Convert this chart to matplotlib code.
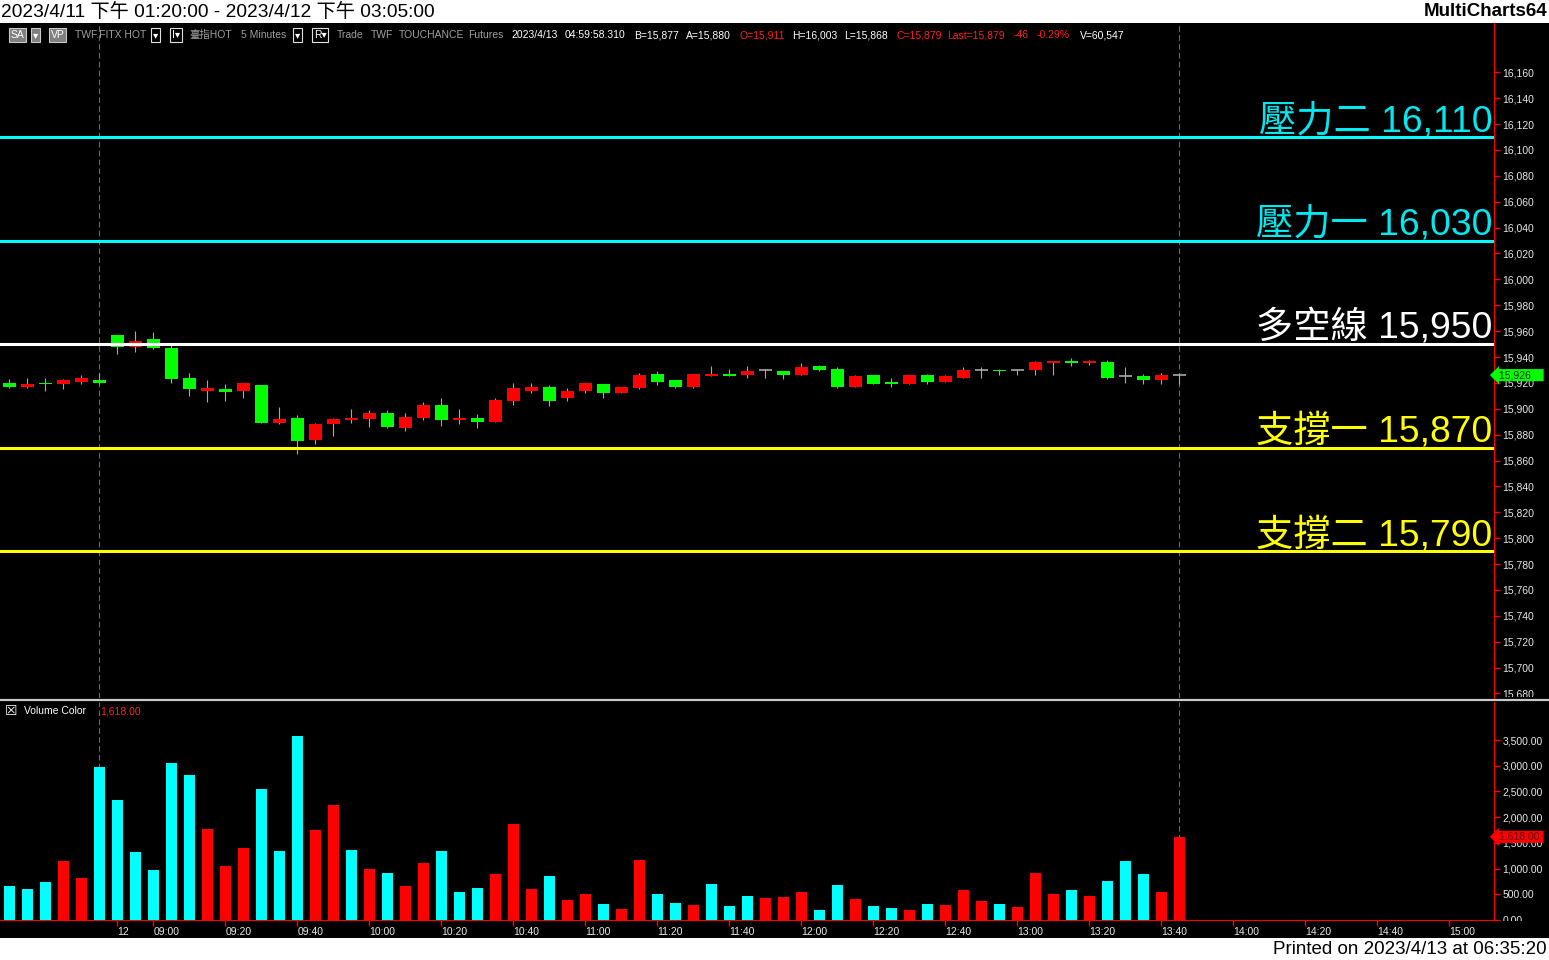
"""TXF 5-minute candles with pressure/support levels, MultiCharts-style."""

import matplotlib
matplotlib.use("Agg")
import matplotlib.pyplot as plt
import numpy as np
from matplotlib.patches import Rectangle
from matplotlib.lines import Line2D
from matplotlib.ticker import FuncFormatter
from matplotlib.transforms import Bbox, TransformedBbox

plt.rcParams['font.family'] = ['Liberation Sans', 'Noto Sans CJK TC', 'DejaVu Sans']

# ---- data ---------------------------------------------------------------
opens = [15920, 15917, 15920, 15919, 15921, 15922, 15957, 15948, 15954, 15947,
         15924, 15914, 15915, 15914, 15918, 15889, 15893, 15876, 15888, 15891,
         15892, 15897, 15885, 15893, 15903, 15891, 15893, 15890, 15906, 15914,
         15917, 15908, 15914, 15919, 15912, 15916, 15927, 15922, 15917, 15925,
         15927, 15926, 15930, 15929, 15926, 15933, 15931, 15917, 15926, 15921,
         15919, 15926, 15921, 15924, 15930, 15930, 15930, 15930, 15935, 15937,
         15935, 15936, 15925, 15925, 15922, 15926]
highs = [15923, 15924, 15924, 15923, 15926, 15928, 15957, 15960, 15959, 15949,
         15928, 15922, 15919, 15920, 15918, 15901, 15895, 15889, 15893, 15900,
         15899, 15899, 15897, 15905, 15908, 15900, 15896, 15908, 15920, 15920,
         15918, 15916, 15920, 15919, 15917, 15928, 15929, 15922, 15927, 15933,
         15931, 15933, 15931, 15929, 15935, 15934, 15932, 15926, 15926, 15924,
         15926, 15927, 15926, 15932, 15932, 15931, 15931, 15937, 15937, 15939,
         15938, 15938, 15932, 15927, 15928, 15928]
lows = [15916, 15916, 15914, 15915, 15919, 15919, 15942, 15944, 15946, 15920,
        15910, 15905, 15906, 15908, 15889, 15888, 15865, 15873, 15879, 15889,
        15886, 15885, 15883, 15891, 15887, 15888, 15885, 15890, 15903, 15912,
        15902, 15906, 15912, 15908, 15912, 15915, 15918, 15916, 15916, 15925,
        15925, 15924, 15924, 15923, 15926, 15929, 15916, 15917, 15919, 15917,
        15919, 15919, 15921, 15924, 15924, 15926, 15926, 15926, 15926, 15933,
        15934, 15923, 15920, 15919, 15919, 15919]
closes = [15917, 15919, 15919, 15922, 15924, 15920, 15948, 15952, 15947, 15923,
          15915, 15916, 15913, 15920, 15889, 15892, 15875, 15888, 15892, 15893,
          15897, 15886, 15894, 15903, 15891, 15893, 15890, 15907, 15916, 15917,
          15906, 15914, 15920, 15912, 15917, 15926, 15921, 15917, 15927, 15927,
          15925, 15929, 15930, 15926, 15932, 15930, 15917, 15925, 15919, 15919,
          15926, 15921, 15925, 15930, 15930, 15929, 15930, 15936, 15937, 15935,
          15937, 15924, 15925, 15922, 15926, 15926]
volumes = [660, 600, 740, 1150, 820, 2980, 2335, 1320, 975, 3055,
           2820, 1770, 1050, 1400, 2550, 1340, 3580, 1750, 2235, 1360,
           990, 915, 660, 1110, 1340, 545, 625, 895, 1860, 600,
           855, 380, 500, 305, 205, 1170, 500, 340, 285, 695,
           265, 460, 420, 440, 540, 185, 675, 400, 265, 225,
           185, 305, 285, 580, 360, 320, 245, 915, 500, 580,
           460, 755, 1150, 895, 540, 1618]
# c = cyan volume bar, r = red volume bar (ten bars per chunk)
volume_colors = ("cccrrccccc" "crrrcccrrc" "rcrrcccrrr" "crrcrrccrc"
                 "ccrrrccrcc" "rcrrrcrrrc" "rcccrr")

levels = [16110, 16030, 15950, 15870, 15790]
level_labels = ["壓力二 16,110", "壓力一 16,030", "多空線 15,950", "支撐一 15,870", "支撐二 15,790"]
level_colors = ["#00FFFF", "#00FFFF", "#FFFFFF", "#FFFF00", "#FFFF00"]
label_colors = ["#00E8F0", "#00E8F0", "#FFFFFF", "#FFFF00", "#FFFF00"]

xtick_idx = [6, 8, 12, 16, 20, 24, 28, 32, 36, 40, 44, 48, 52, 56, 60, 64, 68, 72, 76, 80]
xtick_labels = ["12", "09:00", "09:20", "09:40", "10:00", "10:20", "10:40", "11:00",
                "11:20", "11:40", "12:00", "12:20", "12:40", "13:00", "13:20", "13:40",
                "14:00", "14:20", "14:40", "15:00"]
session_marks = [5, 65]

last_price = 15926
last_volume = 1618

# ---- layout ---------------------------------------------------------------
W, H = 1549, 960


def fx(px):
    return px / W


def fy(py):
    return 1 - py / H


fig = plt.figure(figsize=(W / 100, H / 100), dpi=100, facecolor="white")
fig.add_artist(Rectangle((0, fy(938)), 1, (938 - 23) / H, transform=fig.transFigure,
                         facecolor="black", edgecolor="none", zorder=0))

ax = fig.add_axes([0, fy(698), fx(1494), (698 - 23) / H])
axv = fig.add_axes([0, fy(920), fx(1494), (920 - 702) / H], sharex=ax)

n = len(closes)
x = np.arange(n)
o = np.array(opens)
c = np.array(closes)

for a in (ax, axv):
    a.set_facecolor("none")
    for s in ("top", "left", "bottom"):
        a.spines[s].set_visible(False)
    a.spines["right"].set_color("#FF0000")
    a.yaxis.tick_right()
    a.tick_params(axis="y", colors="#FF0000", labelcolor="#E8E8E8", length=4,
                  width=1, labelsize=7.5, pad=2)
    for m in session_marks:
        a.axvline(m, color="#6A6A6A", lw=0.8, ls=(0, (5, 3)), zorder=1)

# price panel
ax.set_xlim(-0.52, 82.5)
ax.set_ylim(15676.5, 16198.1)
ax.set_yticks(np.arange(15680, 16161, 20))
ax.yaxis.set_major_formatter(FuncFormatter(lambda v, p: f"{int(v):,}"))
ax.tick_params(axis="x", bottom=False, labelbottom=False)

ax.vlines(x, lows, highs, color="#A8A8A8", lw=0.8, zorder=2)
up = c > o
dn = c < o
eq = c == o
ax.bar(x[up], (c - o)[up], bottom=o[up], width=0.72, color="#FF0000", zorder=3)
ax.bar(x[dn], (o - c)[dn], bottom=c[dn], width=0.72, color="#00FF00", zorder=3)
ax.hlines(c[eq], x[eq] - 0.36, x[eq] + 0.36, color="#A8A8A8", lw=1.2, zorder=3)

ytr = ax.get_yaxis_transform()
for lv, lab, col, tcol in zip(levels, level_labels, level_colors, label_colors):
    ax.axhline(lv, color=col, lw=2.2, zorder=4)
    ax.text(0.9988, lv + 4.5, lab, transform=ytr, color=tcol, fontsize=26.8,
            ha="right", va="baseline", zorder=5)

ax.text(1.0015, last_price, f" {last_price:,}    ", transform=ytr, color="#0A2A0A",
        fontsize=7.5, ha="left", va="center", clip_on=False, zorder=6,
        bbox=dict(boxstyle="larrow,pad=0.1", fc="#00FF00", ec="none"))

# volume panel
axv.spines["bottom"].set_visible(True)
axv.spines["bottom"].set_color("#FF0000")
axv.set_ylim(0, 4240)
axv.set_yticks(np.arange(0, 3501, 500))
axv.yaxis.set_major_formatter(FuncFormatter(lambda v, p: f"{v:,.2f}"))
vcol = ["#00FFFF" if k == "c" else "#FF0000" for k in volume_colors]
axv.bar(x, volumes, width=0.61, color=vcol, zorder=3)

axv.set_xticks(xtick_idx)
axv.set_xticklabels(xtick_labels, ha="left")
axv.tick_params(axis="x", colors="#FF0000", labelcolor="#E8E8E8", length=4,
                width=1, labelsize=7.5, pad=1)
for t in axv.xaxis.get_major_ticks():
    t.label1.set_x(t.label1.get_position()[0])

vtr = axv.get_yaxis_transform()
axv.text(1.0015, last_volume, f" {last_volume:,.2f} ", transform=vtr, color="#6A0000",
         fontsize=7.5, ha="left", va="center", clip_on=False, zorder=6,
         bbox=dict(boxstyle="larrow,pad=0.1", fc="#FF0000", ec="none"))

# bottom tick labels of each panel are cut by the panel edge, as in the original
for a, cut in ((ax, 697), (axv, 921)):
    clip = TransformedBbox(Bbox.from_extents(0, fy(cut), 1, 1), fig.transFigure)
    for t in a.yaxis.get_major_ticks():
        t.label2.set_clip_box(clip)
        t.label2.set_clip_on(True)

# panel separator
fig.add_artist(Line2D([0, 1], [fy(700), fy(700)], transform=fig.transFigure,
                      color="#C8C8C8", lw=1.6))

# ---- header / footer texts -------------------------------------------------
fig.text(fx(1), fy(12), "2023/4/11 下午 01:20:00 - 2023/4/12 下午 03:05:00",
         fontsize=13.8, color="black", va="center", ha="left")
fig.text(fx(1547), fy(12), "MultiCharts64", fontsize=13.5, fontweight="bold",
         color="black", va="center", ha="right")
fig.text(fx(1547), fy(949), "Printed on 2023/4/13 at 06:35:20", fontsize=13.5,
         color="black", va="center", ha="right")

grey = "#A0A0A0"
white = "#FFFFFF"
red = "#FF2020"
box_grey = dict(boxstyle="square,pad=0.15", fc="#808080", ec="#C8C8C8", lw=0.8)
box_dark = dict(boxstyle="square,pad=0.15", fc="black", ec="#E0E0E0", lw=0.8)
hdr_y = fy(35)
header = [
    (11, "SA", white, box_grey), (33, "▾", white, box_grey), (51, "VP", white, box_grey),
    (75, "TWF.FITX HOT", grey, None), (153, "▾", white, box_dark),
    (172, "I▾", white, box_dark), (189, "臺指HOT", grey, None),
    (241, "5 Minutes", grey, None), (295, "▾", white, box_dark),
    (314, "R▾", white, box_dark), (337, "Trade", grey, None), (371, "TWF", grey, None),
    (399, "TOUCHANCE", grey, None), (468, "Futures", grey, None),
    (511, "2023/4/13", white, None), (565, "04:59:58.310", white, None),
    (634, "B=15,877", white, None), (686, "A=15,880", white, None),
    (740, "O=15,911", red, None), (792, "H=16,003", white, None),
    (844, "L=15,868", white, None), (896, "C=15,879", red, None),
    (947, "Last=15,879", red, None), (1014, "-46", red, None),
    (1037, "-0.29%", red, None), (1080, "V=60,547", white, None),
]
for px, s, col, box in header:
    fig.text(fx(px), hdr_y, s, color=col, fontsize=7.5, va="center", ha="left", bbox=box)

fig.text(fx(5), fy(711), "☒", color=white, fontsize=10, va="center", ha="left",
         family=["DejaVu Sans"])
fig.text(fx(24), fy(711), "Volume Color", color=white, fontsize=7.5, va="center")
fig.text(fx(100), fy(711), f"{last_volume:,.2f}", color=red, fontsize=7.5, va="center")

fig.savefig("out.png", dpi=100, facecolor=fig.get_facecolor())
plt.close(fig)
